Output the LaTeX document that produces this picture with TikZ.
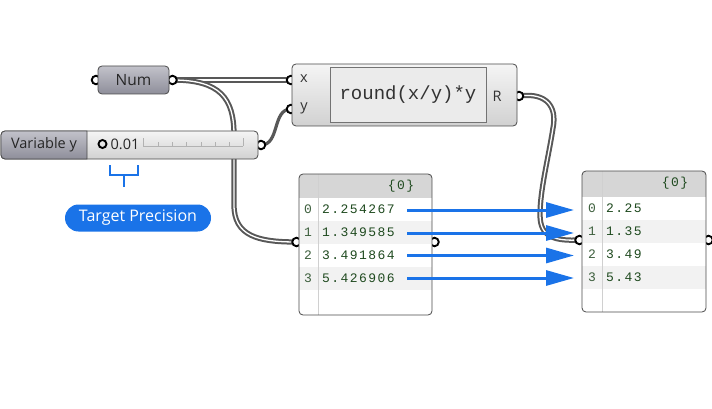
\documentclass[tikz,border=0pt]{standalone}
\usepackage{fontspec}
\setmainfont{Open Sans}
\newfontfamily\codefont{Liberation Mono}
\newfontfamily\panelfont[LetterSpace=11]{Liberation Mono}
\usetikzlibrary{arrows.meta}
\pgfdeclarelayer{bg}
\pgfsetlayers{bg,main}
\definecolor{gblue}{HTML}{1A73E8}
\definecolor{wirec}{HTML}{585858}
\definecolor{boxline}{HTML}{4A4A4A}
\definecolor{pgreen}{HTML}{1F4A1F}
\definecolor{pidx}{HTML}{3D5F3D}
\definecolor{hdr}{HTML}{D6D6D6}
\definecolor{rowgray}{HTML}{F2F2F2}
\definecolor{divc}{HTML}{D0D0D0}
\definecolor{darktop}{HTML}{C2C2CA}
\definecolor{darkbot}{HTML}{8E8E9A}
\begin{document}
\begin{tikzpicture}[x=1pt,y=-1pt,
  box/.style={draw=boxline, line width=0.8pt, rounded corners=4pt, inner sep=0pt},
  dark/.style={box, top color=darktop, bottom color=darkbot},
  light/.style={box, top color=black!4, bottom color=black!18},
  port/.style={circle, draw=black, fill=white, line width=1.9pt, minimum size=8.5pt, inner sep=0pt},
  uitext/.style={font=\fontsize{15.5}{15.5}\selectfont, inner sep=0pt},
  lbltext/.style={font=\fontsize{14.5}{14.5}\selectfont, inner sep=0pt, text=black!80},
  paneltxt/.style={font=\panelfont\fontsize{13}{13}\selectfont, text=pgreen, inner sep=0pt},
  idxtxt/.style={font=\panelfont\fontsize{13}{13}\selectfont, text=pidx, inner sep=0pt},
  panel/.style={draw=boxline, line width=0.8pt, rounded corners=4pt, inner sep=0pt},
  dblwire/.style={draw=wirec, line width=2pt, double=white, double distance=1.3pt},
  sglwire/.style={draw=wirec, line width=3.2pt},
  bluearrow/.style={draw=gblue, line width=3pt, -{Triangle[length=28pt,width=15pt]}},
  bracket/.style={draw=gblue, line width=2.6pt}
]
\useasboundingbox (0,0) rectangle (712,409);

% ---------- ports (drawn first, boxes cover their inner half)
\node[port] (numin)  at (96,80) {};
\node[port] (numout) at (172.5,80) {};
\node[port] (xin)    at (291,80) {};
\node[port] (yin)    at (291,109) {};
\node[port] (rout)   at (519,96) {};
\node[port] (sout)   at (261,145) {};
\node[port] (p1in)   at (296.5,242) {};
\node[port] (p1out)  at (434.5,242) {};
\node[port] (p2in)   at (579.5,240) {};
\node[port] (p2out)  at (708.5,240) {};

% ---------- Num
\node[dark, minimum width=71pt, minimum height=28pt] (num) at (133.5,80) {};
\node[uitext, text=black!85] (numlbl) at (num.center) {Num};

% ---------- expression component
\node[light, minimum width=225pt, minimum height=62pt] (comp) at (404.5,95) {};
\node[draw=black!55, line width=0.8pt, fill=black!8, minimum width=156pt, minimum height=55pt, inner sep=0pt,
      font=\codefont\fontsize{19}{19}\selectfont, text=black!80] (expr) at (408,95) {round(x/y)*y};
\node[lbltext] (xlab) at (304,79) {x};
\node[lbltext] (ylab) at (304,108) {y};
\node[lbltext] (rlab) at (497,96) {R};

% ---------- slider
\node[light, minimum width=257pt, minimum height=28pt] (slider) at (129.5,145) {};
\path[top color=darktop, bottom color=darkbot, draw=boxline, line width=0.8pt]
  (87,131) [rounded corners=4pt] -- (1,131) -- (1,159) [sharp corners] -- (87,159) -- cycle;
\node[lbltext, text=black!85] (varlbl) at (44,145) {Variable y};
\node[circle, draw=black, line width=1.9pt, minimum size=8pt, inner sep=0pt] (sdot) at (102.5,144) {};
\node[font=\fontsize{14.5}{14.5}\selectfont, inner sep=0pt, anchor=west, text=black!85] (sval) at (110.5,144) {0.01};
\draw[black!30, line width=0.6pt] (143,146) -- (243,146);
\foreach \t in {158,172,186.5,201,215,229} { \draw[black!30, line width=0.6pt] (\t,146) -- (\t,142); }
\draw[black!30, line width=0.6pt] (143,146) -- (143,138);
\draw[black!30, line width=0.6pt] (243,146) -- (243,138);

% ---------- bracket + label
\draw[bracket] (110,165) -- (110,175) -- (138,175) -- (138,165);
\draw[bracket] (124,175) -- (124,187);
\node[fill=gblue, rounded corners=13.5pt, minimum width=146pt, minimum height=27pt, inner sep=0pt,
      text=white, font=\fontsize{16}{16}\selectfont] (tp) at (138,218) {Target Precision};

% ---------- panel 1
\begin{scope}
  \clip[rounded corners=4pt] (299,174) rectangle (432,315);
  \fill[white] (299,174) rectangle (432,315);
  \fill[hdr] (299,174) rectangle (432,198);
  \fill[rowgray] (299,221) rectangle (432,244);
  \fill[rowgray] (299,267) rectangle (432,290);
  \draw[divc, line width=0.8pt] (318,174) -- (318,315);
\end{scope}
\node[panel, minimum width=133pt, minimum height=141pt] (panel1) at (365.5,244.5) {};
\node[paneltxt] (p1h) at (401,186) {\{0\}};
\node[idxtxt] (p1i0) at (308,209.5) {0};
\node[idxtxt] (p1i1) at (308,232.5) {1};
\node[idxtxt] (p1i2) at (308,255.5) {2};
\node[idxtxt] (p1i3) at (308,278.5) {3};
\node[paneltxt, anchor=west] (p1v0) at (322,209.5) {2.254267};
\node[paneltxt, anchor=west] (p1v1) at (322,232.5) {1.349585};
\node[paneltxt, anchor=west] (p1v2) at (322,255.5) {3.491864};
\node[paneltxt, anchor=west] (p1v3) at (322,278.5) {5.426906};

% ---------- panel 2
\begin{scope}
  \clip[rounded corners=4pt] (582,171) rectangle (706,312);
  \fill[white] (582,171) rectangle (706,312);
  \fill[hdr] (582,171) rectangle (706,197);
  \fill[rowgray] (582,220) rectangle (706,243);
  \fill[rowgray] (582,266) rectangle (706,289);
  \draw[divc, line width=0.8pt] (602,171) -- (602,312);
\end{scope}
\node[panel, minimum width=124pt, minimum height=141pt] (panel2) at (644,241.5) {};
\node[paneltxt] (p2h) at (675,183) {\{0\}};
\node[idxtxt] (p2i0) at (592,208.5) {0};
\node[idxtxt] (p2i1) at (592,231.5) {1};
\node[idxtxt] (p2i2) at (592,254.5) {2};
\node[idxtxt] (p2i3) at (592,277.5) {3};
\node[paneltxt, anchor=west] (p2v0) at (606,208.5) {2.25};
\node[paneltxt, anchor=west] (p2v1) at (606,231.5) {1.35};
\node[paneltxt, anchor=west] (p2v2) at (606,254.5) {3.49};
\node[paneltxt, anchor=west] (p2v3) at (606,277.5) {5.43};

% ---------- wires (behind everything)
\begin{pgfonlayer}{bg}
  \draw[dblwire] (numout.center) -- (xin.center);
  \draw[dblwire] (numout.center) .. controls (220,80) and (234,98) .. (234,135)
        -- (234,205) .. controls (234,236) and (258,242) .. (p1in.center);
  \draw[sglwire] (sout.center) .. controls (280,145) and (272,109) .. (yin.center);
  \draw[dblwire] (rout.center) .. controls (548,92) and (557,108) .. (553,128)
        .. controls (548,160) and (540,190) .. (540,215)
        .. controls (540,238) and (556,241) .. (p2in.center);
\end{pgfonlayer}

% ---------- blue arrows
\coordinate (a0) at (407,210);   \coordinate (b0) at (574,210);
\coordinate (a1) at (407,233);   \coordinate (b1) at (574,233);
\coordinate (a2) at (407,255.5); \coordinate (b2) at (574,255.5);
\coordinate (a3) at (407,278);   \coordinate (b3) at (574,278);
\draw[bluearrow] (a0) -- (b0);
\draw[bluearrow] (a1) -- (b1);
\draw[bluearrow] (a2) -- (b2);
\draw[bluearrow] (a3) -- (b3);
\end{tikzpicture}
\end{document}
